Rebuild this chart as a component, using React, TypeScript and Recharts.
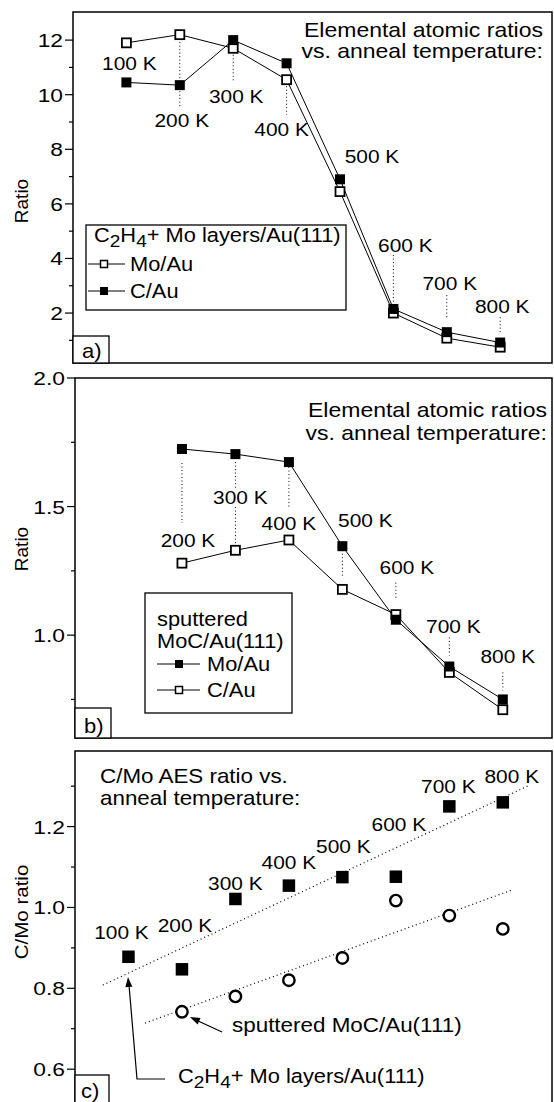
import React from "react";
import {
  ComposedChart,
  Line,
  XAxis,
  YAxis,
  ReferenceArea,
  ReferenceDot,
} from "recharts";

const FONT = '"Liberation Sans", Arial, Helvetica, sans-serif';

// panel a) C2H4 + Mo layers/Au(111)
const tempsA = [100, 200, 300, 400, 500, 600, 700, 800];
const moAuA = [11.9, 12.2, 11.7, 10.55, 6.45, 2.0, 1.08, 0.75];
const cAuA = [10.45, 10.35, 12.0, 11.15, 6.9, 2.15, 1.3, 0.92];
const majorTicksA = [2, 4, 6, 8, 10, 12];
const minorTicksA = [1, 3, 5, 7, 9, 11];

// panel b) sputtered MoC/Au(111)
const tempsB = [200, 300, 400, 500, 600, 700, 800];
const moAuB = [1.724, 1.704, 1.673, 1.346, 1.06, 0.878, 0.75];
const cAuB = [1.28, 1.33, 1.37, 1.178, 1.08, 0.855, 0.71];
const majorTicksB = [1.0, 1.5, 2.0];
const minorTicksB = [0.75, 1.25, 1.75];

// panel c) C/Mo AES ratio
const tempsC = [100, 200, 300, 400, 500, 600, 700, 800];
const layersC = [0.878, 0.847, 1.021, 1.054, 1.075, 1.076, 1.25, 1.26];
const tempsSput = [200, 300, 400, 500, 600, 700, 800];
const sputC = [0.742, 0.78, 0.82, 0.875, 1.017, 0.98, 0.947];
const trendLayersT = [52, 851];
const trendLayersV = [0.808, 1.303];
const trendSputT = [131, 817];
const trendSputV = [0.714, 1.043];
const majorTicksC = [0.6, 0.8, 1.0, 1.2];
const minorTicksC = [0.7, 0.9, 1.1, 1.3];

const rowsA = tempsA.map((t, i) => ({ t, mo: moAuA[i], c: cAuA[i] }));
const rowsB = tempsB.map((t, i) => ({ t, mo: moAuB[i], c: cAuB[i] }));
const rowsLayers = tempsC.map((t, i) => ({ t, v: layersC[i] }));
const rowsSput = tempsSput.map((t, i) => ({ t, v: sputC[i] }));
const rowsTrendLayers = trendLayersT.map((t, i) => ({ t, v: trendLayersV[i] }));
const rowsTrendSput = trendSputT.map((t, i) => ({ t, v: trendSputV[i] }));

// temperature labels: offset (px) from the anchor point, dotted leader pieces
type Lbl = { t: number; dx: number; dy: number; lead?: number[][] };
const labelsA: Lbl[] = [
  { t: 100, dx: 3, dy: 20 },
  { t: 200, dx: 2, dy: 85, lead: [[4, 73]] },
  { t: 300, dx: 3, dy: 48, lead: [[3, 34]] },
  { t: 400, dx: -5, dy: 49, lead: [[3, 35]] },
  { t: 500, dx: 32, dy: -36 },
  { t: 600, dx: 12, dy: -68, lead: [[-58, -11]] },
  { t: 700, dx: 3, dy: -55, lead: [[-43, -21]] },
  { t: 800, dx: 2, dy: -41, lead: [[-30, -15]] },
];
const labelsB: Lbl[] = [
  { t: 200, dx: 6, dy: 91, lead: [[14, 74]] },
  { t: 300, dx: 5, dy: 43, lead: [[8, 36], [53, 93]] },
  { t: 400, dx: 0, dy: 61, lead: [[5, 46]] },
  { t: 500, dx: 23, dy: -26, lead: [[4, 31]] },
  { t: 600, dx: 11, dy: -53, lead: [[-37, -20]] },
  { t: 700, dx: 4, dy: -41, lead: [[-29, -11]] },
  { t: 800, dx: 5, dy: -43, lead: [[-27, -9]] },
];
const labelsC: Lbl[] = [
  { t: 100, dx: -7, dy: -25 },
  { t: 200, dx: 3, dy: -44 },
  { t: 300, dx: 0, dy: -16 },
  { t: 400, dx: 0, dy: -24 },
  { t: 500, dx: 1, dy: -31 },
  { t: 600, dx: 3, dy: -53 },
  { t: 700, dx: -1, dy: -20 },
  { t: 800, dx: 9, dy: -26 },
];

function Txt({ x, y, size = 19, sx = 1.12, anchor = "start", children }: any) {
  return (
    <text
      transform={`translate(${x} ${y}) scale(${sx} 1)`}
      fontSize={size}
      fontFamily={FONT}
      textAnchor={anchor}
      fill="#000"
    >
      {children}
    </text>
  );
}

function makeTick(major: number[], digits: number) {
  return (p: any) => {
    const v = p.payload.value;
    const isMajor = major.some((m) => Math.abs(m - v) < 1e-6);
    return (
      <g>
        <line x1={p.x - (isMajor ? 8 : 4)} x2={p.x} y1={p.y} y2={p.y} stroke="#000" strokeWidth={1.2} />
        {isMajor && (
          <Txt x={p.x - 10} y={p.y + 7} size={19} sx={1.2} anchor="end">
            {v.toFixed(digits)}
          </Txt>
        )}
      </g>
    );
  };
}

const square = (size: number, filled: boolean) => (p: any) => {
  if (p.cx == null || p.cy == null) return <g key={p.index} />;
  return (
    <rect
      key={p.index}
      x={p.cx - size / 2}
      y={p.cy - size / 2}
      width={size}
      height={size}
      fill={filled ? "#000" : "#fff"}
      stroke="#000"
      strokeWidth={filled ? 0 : 1.8}
    />
  );
};

const circle = (p: any) => {
  if (p.cx == null || p.cy == null) return <g key={p.index} />;
  return <circle key={p.index} cx={p.cx} cy={p.cy} r={5.7} fill="#fff" stroke="#000" strokeWidth={2.4} />;
};

function tempLabels(labels: Lbl[], temps: number[], values: number[]) {
  return labels.map((l) => {
    const v = values[temps.indexOf(l.t)];
    return (
      <ReferenceDot
        key={`lbl-${l.t}`}
        x={l.t}
        y={v}
        r={0}
        ifOverflow="visible"
        shape={(p: any) => (
          <g>
            {(l.lead || []).map(([a, b], i) => (
              <line
                key={i}
                x1={p.cx}
                x2={p.cx}
                y1={p.cy + a}
                y2={p.cy + b}
                stroke="#000"
                strokeWidth={1}
                strokeDasharray="1 2.5"
              />
            ))}
            <Txt x={p.cx + l.dx} y={p.cy + l.dy + 7} size={19} sx={1.1} anchor="middle">
              {`${l.t} K`}
            </Txt>
          </g>
        )}
      />
    );
  });
}

function arrowHead(x1: number, y1: number, x2: number, y2: number) {
  const dx = x2 - x1;
  const dy = y2 - y1;
  const len = Math.hypot(dx, dy);
  const ux = dx / len;
  const uy = dy / len;
  const bx = x2 - ux * 10;
  const by = y2 - uy * 10;
  const nx = -uy * 3.5;
  const ny = ux * 3.5;
  return `${x2},${y2} ${bx + nx},${by + ny} ${bx - nx},${by - ny}`;
}

function Overlay() {
  return (
    <svg
      width={554}
      height={1102}
      style={{ position: "absolute", left: 0, top: 0, pointerEvents: "none" }}
    >
      {/* y labels */}
      <text transform="translate(27.5 201) rotate(-90)" fontSize={19} fontFamily={FONT} textAnchor="middle">
        Ratio
      </text>
      <text transform="translate(27.5 549) rotate(-90)" fontSize={19} fontFamily={FONT} textAnchor="middle">
        Ratio
      </text>
      <text transform="translate(27.5 912) rotate(-90) scale(1.08 1)" fontSize={19} fontFamily={FONT} textAnchor="middle">
        C/Mo ratio
      </text>

      {/* panel a */}
      <Txt x={543} y={37} size={20} sx={1.15} anchor="end">Elemental atomic ratios</Txt>
      <Txt x={543} y={58} size={20} sx={1.15} anchor="end">vs. anneal temperature:</Txt>
      <rect x={86} y={225} width={260} height={85} fill="#fff" stroke="#000" strokeWidth={1.3} />
      <Txt x={94} y={242} size={19.5} sx={1.12}>
        C<tspan dy={5} fontSize={17}>2</tspan>
        <tspan dy={-5}>H</tspan>
        <tspan dy={5} fontSize={17}>4</tspan>
        <tspan dy={-5}>+ Mo layers/Au(111)</tspan>
      </Txt>
      <line x1={88} x2={125} y1={264} y2={264} stroke="#000" strokeWidth={1} />
      <rect x={100.5} y={260.5} width={7} height={7} fill="#fff" stroke="#000" strokeWidth={1.5} />
      <Txt x={130} y={271} size={19.5} sx={1.12}>Mo/Au</Txt>
      <line x1={88} x2={125} y1={291} y2={291} stroke="#000" strokeWidth={1} />
      <rect x={100} y={287} width={8} height={8} fill="#000" />
      <Txt x={130} y={298} size={19.5} sx={1.12}>C/Au</Txt>
      <rect x={73} y={336} width={36} height={27} fill="#fff" stroke="#000" strokeWidth={1.3} />
      <Txt x={82} y={358} size={20} sx={1.1}>a)</Txt>

      {/* panel b */}
      <Txt x={547} y={417} size={20} sx={1.15} anchor="end">Elemental atomic ratios</Txt>
      <Txt x={547} y={440} size={20} sx={1.15} anchor="end">vs. anneal temperature:</Txt>
      <rect x={145} y={593} width={147} height={120} fill="#fff" stroke="#000" strokeWidth={1.3} />
      <Txt x={157} y={626} size={19.5} sx={1.12}>sputtered</Txt>
      <Txt x={157} y={648} size={19.5} sx={1.12}>MoC/Au(111)</Txt>
      <line x1={157} x2={200} y1={664} y2={664} stroke="#000" strokeWidth={1} />
      <rect x={175} y={660} width={8} height={8} fill="#000" />
      <Txt x={207} y={671} size={19.5} sx={1.12}>Mo/Au</Txt>
      <line x1={157} x2={200} y1={690} y2={690} stroke="#000" strokeWidth={1} />
      <rect x={175.5} y={686.5} width={7} height={7} fill="#fff" stroke="#000" strokeWidth={1.5} />
      <Txt x={207} y={697} size={19.5} sx={1.12}>C/Au</Txt>
      <rect x={75} y={708} width={36} height={30} fill="#fff" stroke="#000" strokeWidth={1.3} />
      <Txt x={84} y={733} size={20} sx={1.1}>b)</Txt>

      {/* panel c */}
      <Txt x={100} y={783} size={20} sx={1.12}>C/Mo AES ratio vs.</Txt>
      <Txt x={100} y={805} size={20} sx={1.12}>anneal temperature:</Txt>
      <line x1={222} y1={1032} x2={196} y2={1020} stroke="#000" strokeWidth={1.2} />
      <polygon points={arrowHead(222, 1032, 190, 1017)} fill="#000" />
      <Txt x={232} y={1032} size={19.5} sx={1.15}>sputtered MoC/Au(111)</Txt>
      <polyline points="165,1079 137,1079 129,985" fill="none" stroke="#000" strokeWidth={1.2} />
      <polygon points={arrowHead(137, 1079, 128, 977)} fill="#000" />
      <Txt x={178} y={1083} size={19.5} sx={1.12}>
        C<tspan dy={5} fontSize={17}>2</tspan>
        <tspan dy={-5}>H</tspan>
        <tspan dy={5} fontSize={17}>4</tspan>
        <tspan dy={-5}>+ Mo layers/Au(111)</tspan>
      </Txt>
      <rect x={75} y={1075} width={34} height={40} fill="#fff" stroke="#000" strokeWidth={1.3} />
      <Txt x={81} y={1098} size={20} sx={1.1}>c)</Txt>
    </svg>
  );
}

export default function App() {
  const xDomA: [number, number] = [0, 897];
  const xDomBC: [number, number] = [0, 892];
  const yDomA: [number, number] = [0.17, 13.03];
  const yDomB: [number, number] = [0.6, 2.0];
  const yDomC: [number, number] = [0.5, 1.387];

  return (
    <div
      style={{
        position: "absolute",
        left: 0,
        top: 0,
        width: 554,
        height: 1102,
        overflow: "hidden",
        background: "#fff",
        fontFamily: FONT,
      }}
    >
      <div style={{ position: "absolute", left: 0, top: 0 }}>
        <ComposedChart width={554} height={370} data={rowsA} margin={{ top: 12, right: 2, bottom: 7, left: 0 }}>
          <XAxis type="number" dataKey="t" domain={xDomA} allowDataOverflow hide />
          <YAxis
            type="number"
            domain={yDomA}
            allowDataOverflow
            width={73}
            ticks={[...minorTicksA, ...majorTicksA].sort((a, b) => a - b)}
            tick={makeTick(majorTicksA, 0)}
            tickSize={0}
            tickMargin={0}
            axisLine={false}
            tickLine={false}
            interval={0}
          />
          <ReferenceArea x1={xDomA[0]} x2={xDomA[1]} y1={yDomA[0]} y2={yDomA[1]} fill="none" stroke="#000" strokeWidth={1.5} ifOverflow="visible" />
          {tempLabels(labelsA, tempsA, moAuA)}
          <Line dataKey="mo" stroke="#000" strokeWidth={1} dot={square(9, false)} isAnimationActive={false} />
          <Line dataKey="c" stroke="#000" strokeWidth={1} dot={square(10, true)} isAnimationActive={false} />
        </ComposedChart>
      </div>

      <div style={{ position: "absolute", left: 0, top: 358 }}>
        <ComposedChart width={554} height={387} data={rowsB} margin={{ top: 20, right: 2, bottom: 7, left: 0 }}>
          <XAxis type="number" dataKey="t" domain={xDomBC} allowDataOverflow hide />
          <YAxis
            type="number"
            domain={yDomB}
            allowDataOverflow
            width={75}
            ticks={[...minorTicksB, ...majorTicksB].sort((a, b) => a - b)}
            tick={makeTick(majorTicksB, 1)}
            tickSize={0}
            tickMargin={0}
            axisLine={false}
            tickLine={false}
            interval={0}
          />
          <ReferenceArea x1={xDomBC[0]} x2={xDomBC[1]} y1={yDomB[0]} y2={yDomB[1]} fill="none" stroke="#000" strokeWidth={1.5} ifOverflow="visible" />
          {tempLabels(labelsB, tempsB, moAuB)}
          <Line dataKey="c" stroke="#000" strokeWidth={1} dot={square(9, false)} isAnimationActive={false} />
          <Line dataKey="mo" stroke="#000" strokeWidth={1} dot={square(10, true)} isAnimationActive={false} />
        </ComposedChart>
      </div>

      <div style={{ position: "absolute", left: 0, top: 745 }}>
        <ComposedChart width={554} height={370} margin={{ top: 6, right: 2, bottom: 5.4, left: 0 }}>
          <XAxis type="number" dataKey="t" domain={xDomBC} allowDataOverflow hide />
          <YAxis
            type="number"
            domain={yDomC}
            allowDataOverflow
            width={75}
            ticks={[...minorTicksC, ...majorTicksC].sort((a, b) => a - b)}
            tick={makeTick(majorTicksC, 1)}
            tickSize={0}
            tickMargin={0}
            axisLine={false}
            tickLine={false}
            interval={0}
          />
          <ReferenceArea x1={xDomBC[0]} x2={xDomBC[1]} y1={yDomC[0]} y2={yDomC[1]} fill="none" stroke="#000" strokeWidth={1.5} ifOverflow="visible" />
          <Line data={rowsTrendLayers} dataKey="v" stroke="#000" strokeWidth={1.2} strokeDasharray="1 3" dot={false} isAnimationActive={false} />
          <Line data={rowsTrendSput} dataKey="v" stroke="#000" strokeWidth={1.2} strokeDasharray="1 3" dot={false} isAnimationActive={false} />
          {tempLabels(labelsC, tempsC, layersC)}
          <Line data={rowsLayers} dataKey="v" stroke="none" dot={square(12.5, true)} activeDot={false} isAnimationActive={false} />
          <Line data={rowsSput} dataKey="v" stroke="none" dot={circle} activeDot={false} isAnimationActive={false} />
        </ComposedChart>
      </div>

      <Overlay />
    </div>
  );
}
